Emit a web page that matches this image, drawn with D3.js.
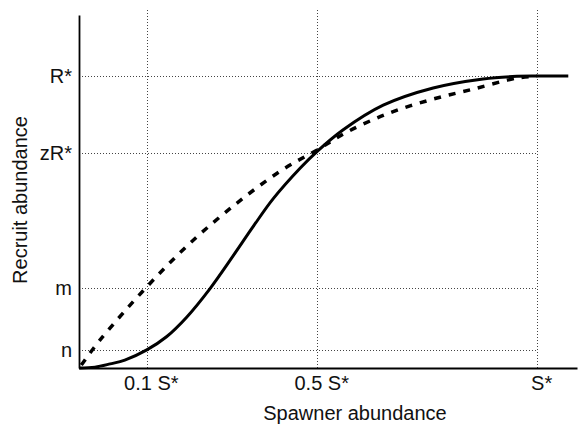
<!DOCTYPE html>
<html>
<head>
<meta charset="utf-8">
<script src="https://cdn.jsdelivr.net/npm/d3@7"></script>
<style>
  body { margin: 0; background: #fff; }
  svg { display: block; }
  text { font-family: "Liberation Sans", Arial, Helvetica, sans-serif; fill: #111; }
</style>
</head>
<body>
<svg id="chart" width="578" height="428"></svg>
<script>
// ---- data ----
const xTickValues = [0.148, 0.52, 1.0];
const xTickLabels = ["0.1 S*", "0.5 S*", "S*"];
const yTickValues = [0.062, 0.274, 0.736, 1.0];
const yTickLabels = ["n", "m", "zR*", "R*"];

// solid (sigmoid) recruitment curve
const solidX = [0, 0.035, 0.068, 0.10, 0.148, 0.191, 0.235, 0.286, 0.336, 0.38, 0.424, 0.483, 0.52, 0.576, 0.664, 0.773, 0.882, 0.956, 1.0, 1.068];
const solidY = [0, 0.003, 0.014, 0.027, 0.062, 0.107, 0.174, 0.272, 0.383, 0.484, 0.58, 0.685, 0.742, 0.815, 0.90, 0.959, 0.99, 0.999, 1.0, 1.0];

// dashed (concave) recruitment curve
const dashX = [0.005, 0.046, 0.148, 0.242, 0.344, 0.443, 0.52, 0.585, 0.672, 0.766, 0.86, 0.956, 1.0];
const dashY = [0.01, 0.096, 0.278, 0.427, 0.564, 0.678, 0.747, 0.808, 0.87, 0.918, 0.955, 0.993, 1.0];

const xTitle = "Spawner abundance";
const yTitle = "Recruit abundance";

// ---- layout ----
const svg = d3.select("#chart");
const x = d3.scaleLinear().domain([0, 1.087]).range([79, 577]);
const y = d3.scaleLinear().domain([0, 1.209]).range([368, 15]);
const gridTop = 1.233;

// gridlines
const grid = svg.append("g")
  .attr("stroke", "#444").attr("stroke-width", 1).attr("stroke-dasharray", "1,2");
grid.selectAll("line.v").data(xTickValues).join("line")
  .attr("x1", d => Math.round(x(d)) + 0.5).attr("x2", d => Math.round(x(d)) + 0.5)
  .attr("y1", y(0)).attr("y2", y(gridTop));
grid.selectAll("line.h").data(yTickValues).join("line")
  .attr("x1", x(0)).attr("x2", x(1.0))
  .attr("y1", d => Math.round(y(d)) + 0.5).attr("y2", d => Math.round(y(d)) + 0.5);

// curves
const line = d3.line().x(d => x(d[0])).y(d => y(d[1])).curve(d3.curveCatmullRom.alpha(0.5));
const solidData = solidX.map((v, i) => [v, solidY[i]]);
const dashData = dashX.map((v, i) => [v, dashY[i]]);

svg.append("path").datum(dashData)
  .attr("d", line).attr("fill", "none")
  .attr("stroke", "#000").attr("stroke-width", 3.5)
  .attr("stroke-dasharray", "7,8");

svg.append("path").datum(solidData)
  .attr("d", line).attr("fill", "none")
  .attr("stroke", "#000").attr("stroke-width", 3);

// axes
const xAxis = d3.axisBottom(x)
  .tickValues(xTickValues)
  .tickFormat((d, i) => xTickLabels[i])
  .tickSize(0).tickSizeOuter(0).tickPadding(8);
const gx = svg.append("g").attr("transform", `translate(0,${y(0)})`).call(xAxis);
gx.select(".domain").attr("stroke", "#000").attr("stroke-width", 1.8);
gx.selectAll(".tick text").attr("font-size", 20).attr("dx", 4)
  .style("font-family", '"Liberation Sans", Arial, sans-serif').attr("fill", "#111");

const yAxis = d3.axisLeft(y)
  .tickValues(yTickValues)
  .tickFormat((d, i) => yTickLabels[i])
  .tickSize(0).tickSizeOuter(0).tickPadding(7);
const gy = svg.append("g").attr("transform", `translate(${x(0)},0)`).call(yAxis);
gy.select(".domain").attr("stroke", "#000").attr("stroke-width", 1.8);
gy.selectAll(".tick text").attr("font-size", 20).attr("dy", "0.34em")
  .style("font-family", '"Liberation Sans", Arial, sans-serif').attr("fill", "#111");

// titles
svg.append("text").attr("x", 355).attr("y", 420)
  .attr("text-anchor", "middle").attr("font-size", 20).text(xTitle);
svg.append("text")
  .attr("transform", "translate(27,200) rotate(-90)")
  .attr("text-anchor", "middle").attr("font-size", 20).text(yTitle);
</script>
</body>
</html>
